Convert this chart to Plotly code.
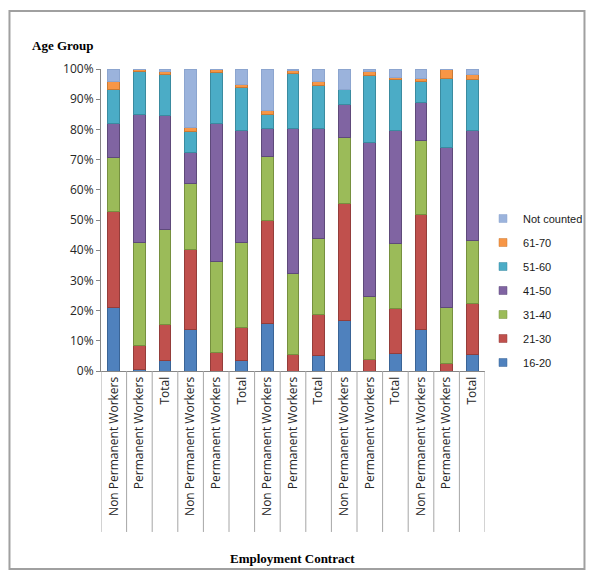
import plotly.graph_objects as go

# Categories (x-axis)
contracts = ["Non Permanent Workers", "Permanent Workers", "Total"] * 5

# Age group shares (%) per bar
age_16_20 = [20.9, 0.5, 3.6, 13.8, 0.0, 3.6, 15.6, 0.0, 5.1, 16.6, 0.0, 5.7, 13.8, 0.0, 5.5]
age_21_30 = [32.0, 8.1, 11.7, 26.3, 6.1, 10.9, 34.3, 5.5, 13.5, 38.8, 3.9, 15.1, 38.1, 2.4, 16.7]
age_31_40 = [17.9, 33.8, 31.5, 22.0, 30.2, 28.1, 21.1, 26.9, 25.4, 22.0, 20.7, 21.3, 24.4, 18.5, 21.0]
age_41_50 = [11.2, 42.6, 37.8, 10.3, 45.7, 36.9, 9.4, 48.0, 36.4, 10.8, 51.2, 37.6, 12.5, 53.1, 36.6]
age_51_60 = [11.1, 14.3, 13.6, 7.0, 16.9, 14.4, 4.7, 18.2, 14.2, 4.9, 22.2, 16.7, 7.0, 22.9, 16.8]
age_61_70 = [2.7, 0.5, 1.1, 1.3, 1.0, 1.1, 1.0, 0.8, 1.1, 0.0, 1.1, 0.8, 1.1, 3.0, 1.7]
not_counted = [4.2, 0.2, 0.7, 19.3, 0.1, 5.0, 13.9, 0.6, 4.3, 6.9, 0.9, 2.8, 3.1, 0.1, 1.7]

series_names = ["16-20", "21-30", "31-40", "41-50", "51-60", "61-70", "Not counted"]
series_values = [age_16_20, age_21_30, age_31_40, age_41_50, age_51_60, age_61_70, not_counted]
fill_colors = ["#4F81BD", "#C0504D", "#9BBB59", "#8064A2", "#4BACC6", "#F79646", "#9BB3DC"]
edge_colors = ["#3A6496", "#943D3A", "#76903F", "#5E4A7A", "#3A8BA0", "#C87A35", "#8CA5CF"]

x_pos = list(range(len(contracts)))

fig = go.Figure()
for name, vals, fc, ec in zip(series_names, series_values, fill_colors, edge_colors):
    fig.add_trace(go.Bar(
        x=x_pos, y=[v / 100 for v in vals], name=name,
        marker=dict(color=fc, line=dict(color=ec, width=1)),
        showlegend=False, hoverinfo="name+y",
    ))

# legend entries, top to bottom: Not counted ... 16-20
for rank, (name, fc, ec) in enumerate(zip(series_names[::-1], fill_colors[::-1], edge_colors[::-1])):
    fig.add_trace(go.Scatter(
        x=[None], y=[None], mode="markers", name=name, legendgroup=name, legendrank=rank + 1,
        marker=dict(symbol="square", size=8, color=fc, line=dict(color=ec, width=0.5)),
    ))

# plot area in figure pixels: x 93..479, y 61..363 (page body adds 8px offset)
def px(fx):
    return (fx - 93) / 386

def py(fy):
    return (363 - fy) / 302

shapes = []
# category separators below the axis
for i in range(len(contracts) + 1):
    shapes.append(dict(type="line", xref="x", yref="paper", x0=i - 0.5, x1=i - 0.5,
                       y0=0, y1=-0.533, line=dict(color="#A6A6A6", width=1)))
# chart border
shapes.append(dict(type="rect", xref="paper", yref="paper",
                   x0=px(1), x1=px(579), y0=py(561), y1=py(3),
                   line=dict(color="#A0A0A0", width=2)))

fig.update_layout(
    width=592, height=573,
    margin=dict(l=93, r=113, t=61, b=210),
    paper_bgcolor="white", plot_bgcolor="white",
    barmode="stack", bargap=0.54,
    font=dict(family="Open Sans, Liberation Sans, sans-serif", size=12, color="#262626"),
    xaxis=dict(
        tickmode="array", tickvals=x_pos, ticktext=contracts, tickangle=-90,
        range=[-0.5, len(contracts) - 0.5], showgrid=False, zeroline=False,
        showline=True, linecolor="#868686", linewidth=1, ticks="",
        tickfont=dict(size=12, color="#262626"),
    ),
    yaxis=dict(
        range=[0, 1], dtick=0.1, tickformat=".0%", showgrid=False, zeroline=False,
        showline=True, linecolor="#868686", linewidth=1, ticks="outside", ticklen=4,
        tickcolor="#868686", tickfont=dict(size=12, color="#262626"),
    ),
    legend=dict(
        x=px(477), xanchor="left", y=py(196), yanchor="top",
        traceorder="grouped", tracegroupgap=5,
        font=dict(family="Liberation Sans, sans-serif", size=11, color="#1a1a1a"),
        bgcolor="rgba(0,0,0,0)",
    ),
    shapes=shapes,
    annotations=[
        dict(text="<b>Age Group</b>", xref="paper", yref="paper",
             x=px(55), y=py(37), xanchor="center", yanchor="middle",
             showarrow=False, font=dict(family="Liberation Serif, serif", size=13, color="black")),
        dict(text="<b>Employment Contract</b>", xref="paper", yref="paper",
             x=px(285.5), y=py(550), xanchor="center", yanchor="middle",
             showarrow=False, font=dict(family="Liberation Serif, serif", size=13, color="black")),
    ],
)

fig.write_html("out.html")
